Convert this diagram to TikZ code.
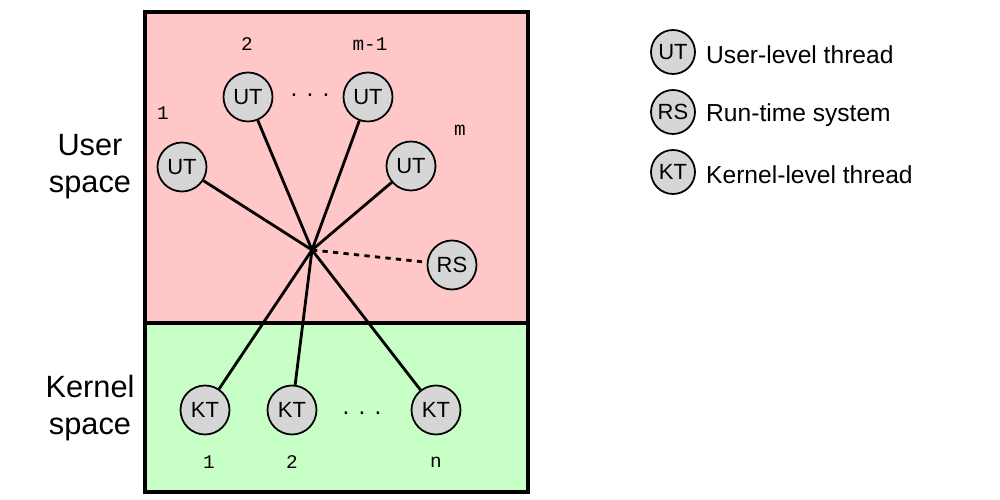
\documentclass[tikz,border=0pt]{standalone}
\usepackage{fontspec}
\setmainfont{Liberation Sans}
\setmonofont{Liberation Mono}
\definecolor{userpink}{RGB}{255,199,199}
\definecolor{kernelgreen}{RGB}{199,255,199}
\definecolor{nodegray}{RGB}{214,214,214}
\tikzset{
  thr/.style={circle, draw, line width=1pt, fill=nodegray, minimum size=0.98cm, inner sep=0pt, font=\fontsize{12.5}{14}\selectfont},
  lthr/.style={circle, draw, line width=1pt, fill=nodegray, minimum size=0.88cm, inner sep=0pt, font=\fontsize{12.5}{14}\selectfont},
  idx/.style={font=\ttfamily\fontsize{11}{12}\selectfont},
  dots/.style={font=\fontsize{14}{16}\selectfont},
  space/.style={align=center, font=\fontsize{17.5}{21}\selectfont},
  legend/.style={anchor=west, font=\fontsize{14}{17}\selectfont},
  link/.style={line width=1.6pt}
}
\begin{document}
\begin{tikzpicture}
\useasboundingbox (0,0) rectangle (20,10);
% regions
\fill[userpink] (2.9,3.54) rectangle (10.56,9.76);
\fill[kernelgreen] (2.9,0.16) rectangle (10.56,3.54);
\draw[line width=1.8pt] (2.9,0.16) rectangle (10.56,9.76);
\draw[line width=1.8pt] (2.9,3.54) -- (10.56,3.54);
\node[space] (user) at (1.8,6.66) {User\\space};
\node[space] (kernel) at (1.8,1.84) {Kernel\\space};

% hub
\coordinate (hub) at (6.24,5.0);

% user-level threads
\node[thr] (ut1) at (3.64,6.66) {UT};
\node[thr] (ut2) at (4.96,8.06) {UT};
\node[thr] (ut3) at (7.36,8.06) {UT};
\node[thr] (ut4) at (8.22,6.68) {UT};
\node[thr] (rs) at (9.04,4.7) {RS};
\node[dots] (udots) at (6.2,8.1) {. . .};
\node[idx] (l1) at (3.26,7.74) {1};
\node[idx] (l2) at (4.94,9.12) {2};
\node[idx] (l3) at (7.4,9.12) {m-1};
\node[idx] (l4) at (9.2,7.4) {m};

% kernel-level threads
\node[thr] (kt1) at (4.1,1.8) {KT};
\node[thr] (kt2) at (5.84,1.8) {KT};
\node[thr] (kt3) at (8.72,1.8) {KT};
\node[dots] (kdots) at (7.24,1.74) {. . .};
\node[idx] (k1) at (4.18,0.76) {1};
\node[idx] (k2) at (5.84,0.76) {2};
\node[idx] (k3) at (8.72,0.76) {n};

% connectors
\foreach \n in {ut1,ut2,ut3,ut4,kt1,kt2,kt3}
  \draw[link] (hub) -- (\n);
\draw[link, dashed] (hub) -- (rs);

% legend
\node[lthr] (lut) at (13.46,8.96) {UT};
\node[lthr] (lrs) at (13.46,7.76) {RS};
\node[lthr] (lkt) at (13.46,6.56) {KT};
\node[legend] at (14.0,8.9) {User-level thread};
\node[legend] at (14.0,7.7) {Run-time system};
\node[legend] at (14.0,6.5) {Kernel-level thread};
\end{tikzpicture}
\end{document}
